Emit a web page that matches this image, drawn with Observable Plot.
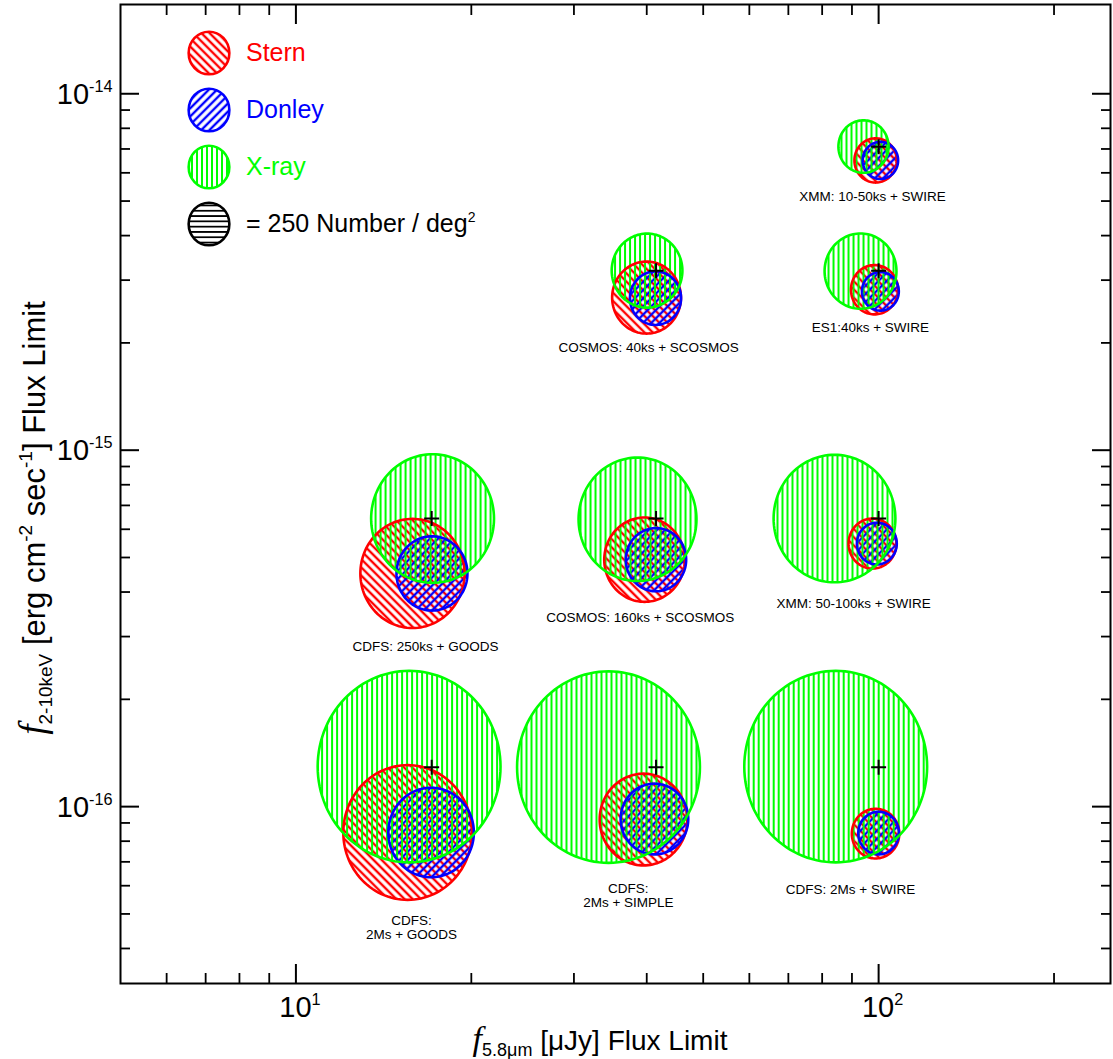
<!DOCTYPE html>
<html><head><meta charset="utf-8">
<script src="https://cdn.jsdelivr.net/npm/d3@7"></script>
<script src="https://cdn.jsdelivr.net/npm/@observablehq/plot@0.6"></script>
<style>body{margin:0;background:#fff}</style>
</head><body><div id="chart"></div>
<script>
// ---- data ----
const fields = ["CDFS: 2Ms + GOODS", "CDFS: 2Ms + SIMPLE", "CDFS: 2Ms + SWIRE", "CDFS: 250ks + GOODS",
  "COSMOS: 160ks + SCOSMOS", "XMM: 50-100ks + SWIRE", "COSMOS: 40ks + SCOSMOS", "ES1:40ks + SWIRE", "XMM: 10-50ks + SWIRE"];
const labelText = ["CDFS:\n2Ms + GOODS", "CDFS:\n2Ms + SIMPLE", "CDFS: 2Ms + SWIRE", "CDFS: 250ks + GOODS",
  "COSMOS: 160ks + SCOSMOS", "XMM: 50-100ks + SWIRE", "COSMOS: 40ks + SCOSMOS", "ES1:40ks + SWIRE", "XMM: 10-50ks + SWIRE"];
// survey flux limits (the "+" markers)
const irLimit   = [17.1, 41.5, 100, 17.1, 41.5, 100, 41.5, 100, 100];            // µJy
const xrayLimit = [1.29e-16, 1.29e-16, 1.29e-16, 6.43e-16, 6.43e-16, 6.43e-16, 3.19e-15, 3.19e-15, 7.1e-15];
// surface densities (Number / deg^2) -> circle areas
const xrayDensity   = [5050, 5050, 5050, 2280, 2100, 2240, 755, 780, 380];
const sternDensity  = [2500, 1160, 340, 1640, 980, 345, 715, 335, 270];
const donleyDensity = [1105, 690, 250, 760, 550, 240, 395, 205, 190];
// circle centres (data units)
const xrayX   = [15.64, 34.39, 84.4, 17.16, 38.57, 84.0, 40.05, 93.1, 94.2];
const xrayY   = [1.295e-16, 1.291e-16, 1.295e-16, 6.43e-16, 6.40e-16, 6.43e-16, 3.19e-15, 3.18e-15, 7.11e-15];
const sternX  = [15.55, 39.49, 98.8, 15.85, 39.65, 97.6, 39.97, 98.4, 98.8];
const sternY  = [8.46e-17, 9.20e-17, 8.40e-17, 4.51e-16, 4.93e-16, 5.47e-16, 2.68e-15, 2.82e-15, 6.50e-15];
const donleyX = [17.06, 41.24, 100.0, 17.12, 41.49, 99.3, 41.41, 100.7, 100.7];
const donleyY = [8.46e-17, 9.23e-17, 8.43e-17, 4.51e-16, 4.93e-16, 5.47e-16, 2.67e-15, 2.79e-15, 6.50e-15];
// label anchors (data units)
const labelX = [15.79, 37.2, 89.5, 16.69, 39.0, 90.6, 40.3, 96.8, 97.6];
const labelY = [4.58e-17, 5.63e-17, 5.85e-17, 2.81e-16, 3.39e-16, 3.71e-16, 1.94e-15, 2.21e-15, 5.15e-15];
// legend
const legendNames = ["Stern", "Donley", "X-ray", "= 250 Number / deg^2"];
const legendScaleValue = 250;
// axes
const xDomain = [5, 250];
const yDomain = [3.19e-17, 1.78e-14];
const yMajorTicks = [1e-16, 1e-15, 1e-14];
const yMajorLabels = ["-16", "-15", "-14"];
const yMinorTicks = [4e-17, 5e-17, 6e-17, 7e-17, 8e-17, 9e-17, 2e-16, 3e-16, 4e-16, 5e-16, 6e-16, 7e-16, 8e-16, 9e-16,
  2e-15, 3e-15, 4e-15, 5e-15, 6e-15, 7e-15, 8e-15, 9e-15];
const xMajorTicks = [10, 100];
const xMajorLabels = ["1", "2"];
const xMinorTicks = [6, 7, 8, 9, 20, 30, 40, 50, 60, 70, 80, 90, 200];

// ---- styles ----
const RED = "#ff0000", BLUE = "#0000ff", GREEN = "#00ff00";
const SANS = "'Liberation Sans', Arial, Helvetica, sans-serif";
const SERIF = "'Liberation Serif', 'Times New Roman', serif";
const ASPECT = 0.955;
const TICKFONT = 29;

const rows = fields.map((f, i) => ({field: f, label: labelText[i], ir: irLimit[i], xl: xrayLimit[i], lx: labelX[i], ly: labelY[i]}));
const mk = (xs, ys, ns) => xs.map((x, i) => ({x, y: ys[i], n: ns[i], field: fields[i]}));
const xray = mk(xrayX, xrayY, xrayDensity);
const stern = mk(sternX, sternY, sternDensity);
const donley = mk(donleyX, donleyY, donleyDensity);

const ellipse = {draw(ctx, size) {
  const r = Math.sqrt(size / Math.PI), rx = r * ASPECT, n = 120;
  for (let i = 0; i <= n; i++) {
    const a = 2 * Math.PI * i / n, px = rx * Math.cos(a), py = r * Math.sin(a);
    if (i === 0) ctx.moveTo(px, py); else ctx.lineTo(px, py);
  }
  ctx.closePath();
}};
const plus = {draw(ctx, size) {
  const r = Math.sqrt(size / Math.PI);
  ctx.moveTo(-r, 0); ctx.lineTo(r, 0); ctx.moveTo(0, -r); ctx.lineTo(0, r);
}};

const yLab = new Map(yMajorTicks.map((t, i) => [t, "10^" + yMajorLabels[i]]));
const xLab = new Map(xMajorTicks.map((t, i) => [t, "10^" + xMajorLabels[i]]));
const tk = {tickFormat: () => "", label: null, strokeWidth: 2};
const tkm = {tickFormat: () => "", label: null, strokeWidth: 1.8};

const circ = (data, fill, stroke) => Plot.dot(data, {x: "x", y: "y", r: "n", symbol: ellipse, fill, stroke, strokeWidth: stroke === "none" ? 0 : 2.6});

const chart = Plot.plot({
  width: 1113, height: 1059,
  marginLeft: 120, marginRight: 3, marginTop: 4, marginBottom: 76,
  style: {background: "white", fontFamily: SANS, color: "black"},
  x: {type: "log", domain: xDomain, label: null},
  y: {type: "log", domain: yDomain, label: null},
  r: {type: "sqrt", domain: [0, legendScaleValue], range: [0, 21.3]},
  marks: [
    circ(stern, "url(#hatchStern)", "none"),
    circ(donley, "url(#hatchDonley)", "none"),
    circ(xray, "url(#hatchXray)", "none"),
    circ(stern, "none", RED),
    circ(donley, "none", BLUE),
    circ(xray, "none", GREEN),
    Plot.dot(rows, {x: "ir", y: "xl", symbol: plus, r: 7.5, stroke: "black", strokeWidth: 2, fill: "none"}),
    Plot.text(rows, {x: "lx", y: "ly", text: "label", fontSize: 13.5, lineHeight: 1.0, fill: "black"}),
    Plot.axisY(yMajorTicks, {anchor: "left", tickSize: 19, dx: 19, ...tk}),
    Plot.axisY(yMinorTicks, {anchor: "left", tickSize: 10, dx: 10, ...tkm}),
    Plot.axisY(yMajorTicks, {anchor: "right", tickSize: 19, dx: -19, ...tk}),
    Plot.axisY(yMinorTicks, {anchor: "right", tickSize: 10, dx: -10, ...tkm}),
    Plot.axisX(xMajorTicks, {anchor: "bottom", tickSize: 19, dy: -19, ...tk}),
    Plot.axisX(xMinorTicks, {anchor: "bottom", tickSize: 10, dy: -10, ...tkm}),
    Plot.axisX(xMajorTicks, {anchor: "top", tickSize: 19, dy: 19, ...tk}),
    Plot.axisX(xMinorTicks, {anchor: "top", tickSize: 10, dy: 10, ...tkm}),
    Plot.text(yMajorTicks, {y: d => d, text: d => yLab.get(d), frameAnchor: "left", textAnchor: "end", dx: -8, dy: 1, fontSize: TICKFONT, fill: "black"}),
    Plot.text(xMajorTicks, {x: d => d, y: () => yDomain[0], text: d => xLab.get(d), lineAnchor: "middle", dy: 24, dx: 4, fontSize: TICKFONT, fill: "black"}),
    Plot.frame({stroke: "black", strokeWidth: 2})
  ]
});
document.getElementById("chart").appendChild(chart);

// ---- patterns ----
const svg = d3.select(chart);
const defs = svg.insert("defs", ":first-child");
function hatch(id, color, angle, period, width, crisp) {
  const p = defs.append("pattern").attr("id", id).attr("patternUnits", "userSpaceOnUse")
    .attr("width", period).attr("height", period).attr("patternTransform", `rotate(${angle})`);
  const l = p.append("line").attr("x1", period / 2).attr("x2", period / 2).attr("y1", -1).attr("y2", period + 1)
    .attr("stroke", color).attr("stroke-width", width);
  if (crisp) l.attr("shape-rendering", "crispEdges");
}
hatch("hatchStern", RED, -45, 5.8, 2.4, false);
hatch("hatchDonley", BLUE, 45, 5.8, 2.4, false);
hatch("hatchXray", GREEN, 0, 5, 2, true);
hatch("hatchScale", "black", 90, 5.3, 2, true);

// ---- superscripts ----
function supify(node, fs) {
  const t = node.textContent;
  if (!t.includes("^")) return;
  const [base, exp] = t.split("^");
  const s = d3.select(node);
  s.text(base);
  s.append("tspan").attr("dy", -0.42 * fs).attr("font-size", 0.56 * fs).text(exp);
}
svg.selectAll("text").each(function() { if (this.textContent.includes("^")) supify(this, TICKFONT); });

// ---- legend ----
const rLeg = chart.scale("r").apply(legendScaleValue);
const legColors = [RED, BLUE, GREEN, "black"];
const legFills = ["url(#hatchStern)", "url(#hatchDonley)", "url(#hatchXray)", "url(#hatchScale)"];
const leg = svg.append("g").attr("font-family", SANS).attr("font-size", 25).attr("text-anchor", "start");
legendNames.forEach((name, i) => {
  const g = leg.append("g").attr("transform", `translate(209,${53 + 57 * i})`);
  g.append("ellipse").attr("rx", rLeg * ASPECT).attr("ry", rLeg).attr("fill", legFills[i]);
  g.append("ellipse").attr("rx", rLeg * ASPECT).attr("ry", rLeg).attr("fill", "none")
    .attr("stroke", legColors[i]).attr("stroke-width", 2.6);
  const t = g.append("text").attr("x", 37).attr("y", 8).attr("fill", legColors[i]).text(name);
  if (name.includes("^")) supify(t.node(), 25);
});

// ---- axis titles ----
const xt = svg.append("text").attr("x", 600).attr("y", 1050).attr("text-anchor", "middle")
  .attr("font-family", SANS).attr("font-size", 28).attr("fill", "black");
xt.append("tspan").attr("font-family", SERIF).attr("font-style", "italic").attr("font-size", 34).text("f");
xt.append("tspan").attr("font-size", 18).attr("dy", 6).text("5.8μm");
xt.append("tspan").attr("dy", -6).text(" [μJy] Flux Limit");

const yt = svg.append("text").attr("transform", "translate(45,518) rotate(-90)").attr("text-anchor", "middle")
  .attr("font-family", SANS).attr("font-size", 31).attr("fill", "black");
yt.append("tspan").attr("font-family", SERIF).attr("font-style", "italic").attr("font-size", 37).text("f");
yt.append("tspan").attr("font-size", 19).attr("dy", 7).text("2-10keV");
yt.append("tspan").attr("dy", -7).text(" [erg cm");
yt.append("tspan").attr("font-size", 19).attr("dy", -13).text("-2");
yt.append("tspan").attr("dy", 13).text(" sec");
yt.append("tspan").attr("font-size", 19).attr("dy", -13).text("-1");
yt.append("tspan").attr("dy", 13).text("] Flux Limit");
</script></body></html>
